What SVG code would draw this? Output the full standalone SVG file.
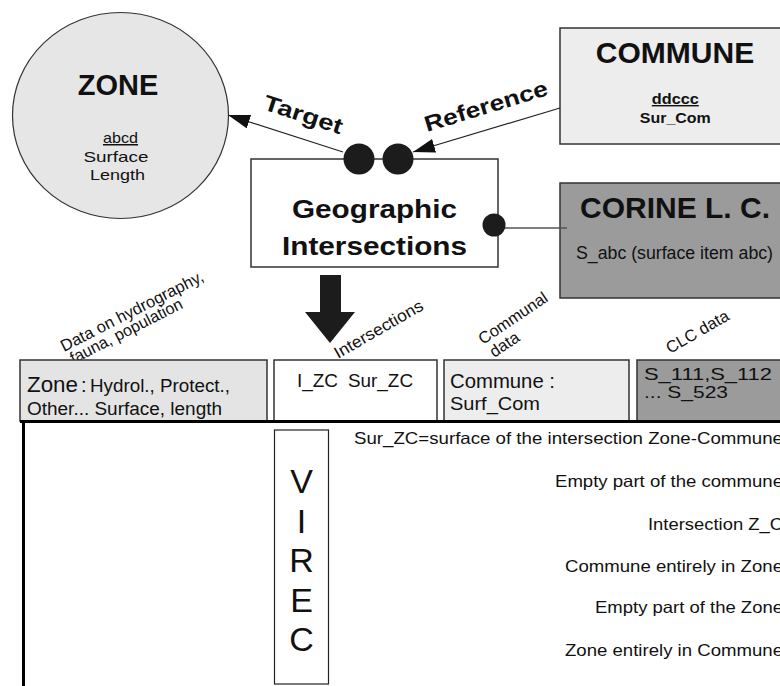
<svg xmlns="http://www.w3.org/2000/svg" width="780" height="686" viewBox="0 0 780 686">
  <style>
    text { font-family: "Liberation Sans", Arial, sans-serif; fill: #111; }
    .b { font-weight: bold; }
    .box { stroke: #333; stroke-width: 1.5; }
    .link { stroke: #222; stroke-width: 1.2; fill: none; }
    .dot { fill: #1c1c1c; }
  </style>
  <defs>
    <marker id="tip" markerUnits="userSpaceOnUse" markerWidth="24" markerHeight="14" refX="22" refY="7" orient="auto">
      <path d="M0,0 L22,7 L0,14 z" fill="#111"/>
    </marker>
  </defs>

  <rect width="780" height="686" fill="#fff"/>

  <!-- Zone entity -->
  <g id="zone">
    <ellipse cx="120.5" cy="115.5" rx="108" ry="103" fill="#e6e6e6" stroke="#333" stroke-width="1.2"/>
    <text class="b" x="118" y="95" font-size="29" text-anchor="middle">ZONE</text>
    <text x="120.5" y="143" font-size="15" text-anchor="middle" text-decoration="underline" textLength="35" lengthAdjust="spacingAndGlyphs">abcd</text>
    <text x="116" y="162" font-size="15" text-anchor="middle" textLength="65" lengthAdjust="spacingAndGlyphs">Surface</text>
    <text x="117.5" y="180" font-size="15" text-anchor="middle" textLength="55" lengthAdjust="spacingAndGlyphs">Length</text>
  </g>

  <!-- Commune entity -->
  <g id="commune">
    <rect class="box" x="560" y="28" width="232" height="116" fill="#ededed"/>
    <text class="b" x="675" y="63" font-size="30" text-anchor="middle">COMMUNE</text>
    <text class="b" x="675.3" y="104" font-size="14" text-anchor="middle" text-decoration="underline" textLength="47" lengthAdjust="spacingAndGlyphs">ddccc</text>
    <text class="b" x="675.3" y="123" font-size="15" text-anchor="middle" textLength="71" lengthAdjust="spacingAndGlyphs">Sur_Com</text>
  </g>

  <!-- Corine Land Cover entity -->
  <g id="corine">
    <rect class="box" x="560" y="183" width="232" height="115" fill="#9b9b9b"/>
    <text class="b" x="675" y="218" font-size="30" text-anchor="middle">CORINE L. C.</text>
    <text x="576" y="259" font-size="17.5" textLength="197" lengthAdjust="spacingAndGlyphs">S_abc (surface item abc)</text>
  </g>

  <!-- Connectors -->
  <g id="connectors">
    <line class="link" x1="343" y1="152" x2="228" y2="115" marker-end="url(#tip)"/>
    <line class="link" x1="560" y1="108" x2="413" y2="152" marker-end="url(#tip)"/>
    <line x1="494" y1="228" x2="567" y2="228" stroke="#555" stroke-width="1.5"/>
    <text class="b" font-size="22" transform="translate(262,109) rotate(18)" textLength="82" lengthAdjust="spacingAndGlyphs">Target</text>
    <text class="b" font-size="22" transform="translate(427,132) rotate(-17)" textLength="128" lengthAdjust="spacingAndGlyphs">Reference</text>
    <polygon points="320,275 341,275 341,312 355,312 330,343 305,312 320,312" fill="#1c1c1c"/>
  </g>

  <!-- Geographic intersections process -->
  <g id="geo">
    <rect class="box" x="251" y="159" width="247" height="108" fill="#fff"/>
    <text class="b" x="374.5" y="218" font-size="26" text-anchor="middle" textLength="165" lengthAdjust="spacingAndGlyphs">Geographic</text>
    <text class="b" x="374.5" y="255" font-size="26" text-anchor="middle" textLength="185" lengthAdjust="spacingAndGlyphs">Intersections</text>
    <circle class="dot" cx="359" cy="159" r="15.5"/>
    <circle class="dot" cx="398" cy="159" r="15.5"/>
    <circle class="dot" cx="494" cy="225" r="11.5"/>
  </g>

  <!-- Column captions -->
  <g id="captions">
    <g transform="translate(64,352) rotate(-27)" font-size="16.5">
      <text x="0" y="0" textLength="158" lengthAdjust="spacingAndGlyphs">Data on hydrography,</text>
      <text x="3" y="15" textLength="124" lengthAdjust="spacingAndGlyphs">fauna, population</text>
    </g>
    <text font-size="16.5" transform="translate(338,359) rotate(-30)" textLength="100" lengthAdjust="spacingAndGlyphs">Intersections</text>
    <g transform="translate(483,345) rotate(-34)" font-size="16.5">
      <text x="0" y="0">Communal</text>
      <text x="2" y="17">data</text>
    </g>
    <text font-size="16.5" transform="translate(670,354) rotate(-30)">CLC data</text>
  </g>

  <!-- Table header cells -->
  <g id="cell-zone">
    <rect class="box" x="20" y="360" width="247" height="61" fill="#e4e4e4"/>
    <text x="27" y="392" font-size="22" textLength="51" lengthAdjust="spacingAndGlyphs">Zone</text>
    <text x="81" y="392" font-size="20">:</text>
    <text x="90" y="392" font-size="18" textLength="140" lengthAdjust="spacingAndGlyphs">Hydrol., Protect.,</text>
    <text x="27" y="415" font-size="18" textLength="195" lengthAdjust="spacingAndGlyphs">Other... Surface, length</text>
  </g>
  <g id="cell-intersections">
    <rect class="box" x="274" y="360" width="163" height="61" fill="#fff"/>
    <text x="297" y="387" font-size="18" textLength="41" lengthAdjust="spacingAndGlyphs">I_ZC</text>
    <text x="348" y="387" font-size="18" textLength="65" lengthAdjust="spacingAndGlyphs">Sur_ZC</text>
  </g>
  <g id="cell-commune">
    <rect class="box" x="444" y="360" width="185" height="61" fill="#ededed"/>
    <text x="450" y="388" font-size="21" textLength="105" lengthAdjust="spacingAndGlyphs">Commune :</text>
    <text x="450" y="410" font-size="19" textLength="90" lengthAdjust="spacingAndGlyphs">Surf_Com</text>
  </g>
  <g id="cell-clc">
    <rect class="box" x="637" y="360" width="155" height="61" fill="#9b9b9b"/>
    <text x="644" y="380" font-size="17" textLength="128" lengthAdjust="spacingAndGlyphs">S_111,S_112</text>
    <text x="644" y="398" font-size="17" textLength="84" lengthAdjust="spacingAndGlyphs">... S_523</text>
  </g>

  <!-- Table frame -->
  <g id="frame">
    <line x1="20" y1="421.5" x2="780" y2="421.5" stroke="#000" stroke-width="3"/>
    <line x1="23.5" y1="420" x2="23.5" y2="686" stroke="#000" stroke-width="3"/>
  </g>

  <!-- VIREC column -->
  <g id="virec">
    <rect x="274.5" y="430" width="54" height="254" fill="#fff" stroke="#222" stroke-width="1.2"/>
    <g font-size="34" text-anchor="middle">
      <text x="301.5" y="493">V</text>
      <text x="301.5" y="533">I</text>
      <text x="301.5" y="572">R</text>
      <text x="301.5" y="612">E</text>
      <text x="301.5" y="651">C</text>
    </g>
  </g>

  <!-- Legend of the VIREC cases -->
  <g id="cases" font-size="16.5" text-anchor="end">
    <text x="783" y="444" textLength="429" lengthAdjust="spacingAndGlyphs">Sur_ZC=surface of the intersection Zone-Commune</text>
    <text x="783" y="487" textLength="228" lengthAdjust="spacingAndGlyphs">Empty part of the commune</text>
    <text x="783" y="530" textLength="135" lengthAdjust="spacingAndGlyphs">Intersection Z_C</text>
    <text x="783" y="572" textLength="218" lengthAdjust="spacingAndGlyphs">Commune entirely in Zone</text>
    <text x="783" y="613" textLength="188" lengthAdjust="spacingAndGlyphs">Empty part of the Zone</text>
    <text x="783" y="656" textLength="218" lengthAdjust="spacingAndGlyphs">Zone entirely in Commune</text>
  </g>
</svg>
